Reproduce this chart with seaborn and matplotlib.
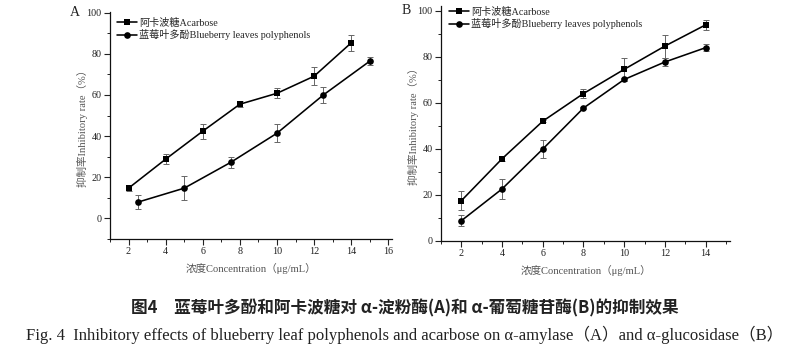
import matplotlib
matplotlib.use("Agg")
import matplotlib.pyplot as plt
import seaborn as sns
import pandas as pd
from matplotlib.ticker import MultipleLocator

sns.set_theme(style="ticks")
plt.rcParams['font.family'] = ['Liberation Serif', 'Noto Sans CJK SC']
plt.rcParams['axes.unicode_minus'] = False

# ---------------- data ----------------
series_names = ["阿卡波糖Acarbose", "蓝莓叶多酚Blueberry leaves polyphenols"]

# Panel A: alpha-amylase
a_acarbose_x = [2, 4, 6, 8, 10, 12, 14]
a_acarbose_y = [14.7, 28.8, 42.4, 55.5, 60.8, 69.1, 85.3]
a_acarbose_err = [1.5, 2.3, 3.7, 1.6, 2.4, 4.4, 3.8]
a_poly_x = [2.5, 5, 7.5, 10, 12.5, 15]
a_poly_y = [7.9, 14.7, 27.2, 41.4, 60.0, 76.4]
a_poly_err = [3.5, 5.9, 2.7, 4.4, 3.9, 2.0]

# Panel B: alpha-glucosidase
b_acarbose_x = [2, 4, 6, 8, 10, 12, 14]
b_acarbose_y = [17.5, 35.7, 52.0, 64.0, 74.5, 84.6, 93.8]
b_acarbose_err = [4.0, 1.0, 0.5, 2.0, 5.0, 5.0, 2.3]
b_poly_x = [2, 4, 6, 8, 10, 12, 14]
b_poly_y = [8.8, 22.6, 39.9, 57.7, 70.1, 77.7, 83.9]
b_poly_err = [2.3, 4.4, 3.9, 0.5, 0.5, 1.8, 1.5]

x_label = "浓度Concentration（μg/mL）"
y_label = "抑制率Inhibitory rate（%）"
caption_cn = "图4　蓝莓叶多酚和阿卡波糖对 α-淀粉酶(A)和 α-葡萄糖苷酶(B)的抑制效果"
caption_en = "Fig. 4  Inhibitory effects of blueberry leaf polyphenols and acarbose on α-amylase（A）and α-glucosidase（B）"

# ---------------- figure ----------------
W, H = 810, 352
fig = plt.figure(figsize=(W / 100, H / 100), dpi=100)
fig.patch.set_facecolor("white")


def px_axes(left, top, right, bottom):
    return fig.add_axes([left / W, 1 - bottom / H, (right - left) / W, (bottom - top) / H])


axA = px_axes(110, 12, 392, 239)
axB = px_axes(441, 6, 730, 241)

tick_fs = 7.3
label_fs = 7.6
label_color = "#555555"


def draw_panel(ax, ax_x, ax_y, ax_e, px_x, px_y, px_e, xlim, ylim, xmax_tick, legend_anchor):
    df = pd.concat([
        pd.DataFrame({"conc": ax_x, "rate": ax_y, "series": series_names[0]}),
        pd.DataFrame({"conc": px_x, "rate": px_y, "series": series_names[1]}),
    ], ignore_index=True)
    sns.lineplot(data=df, x="conc", y="rate", hue="series", style="series",
                 hue_order=series_names, style_order=series_names,
                 palette={series_names[0]: "black", series_names[1]: "black"},
                 markers={series_names[0]: "s", series_names[1]: "o"},
                 dashes=False, markersize=4.8, markeredgewidth=0,
                 linewidth=1.15, ax=ax, zorder=3)
    ax.errorbar(ax_x, ax_y, yerr=ax_e, fmt="none", ecolor="#666666",
                elinewidth=0.7, capsize=2.2, capthick=0.7, zorder=2)
    ax.errorbar(px_x, px_y, yerr=px_e, fmt="none", ecolor="#666666",
                elinewidth=0.7, capsize=2.2, capthick=0.7, zorder=2)
    ax.set_xlim(*xlim)
    ax.set_ylim(*ylim)
    ax.set_xticks(list(range(2, xmax_tick + 1, 2)))
    ax.set_yticks([0, 20, 40, 60, 80, 100])
    ax.xaxis.set_minor_locator(MultipleLocator(1))
    ax.yaxis.set_minor_locator(MultipleLocator(10))
    ax.tick_params(axis="both", which="major", direction="out", length=4,
                   width=0.8, labelsize=tick_fs, colors="#222222", pad=2)
    ax.tick_params(axis="both", which="minor", direction="out", length=2.2,
                   width=0.7, colors="#222222")
    for s in ["top", "right"]:
        ax.spines[s].set_visible(False)
    for s in ["left", "bottom"]:
        ax.spines[s].set_linewidth(0.9)
        ax.spines[s].set_color("#111111")
    ax.set_xlabel(x_label, fontsize=label_fs, color=label_color, labelpad=5)
    ax.set_ylabel(y_label, fontsize=label_fs, color=label_color, labelpad=-1)
    ax.set_facecolor("white")
    handles, labels = ax.get_legend_handles_labels()
    ax.legend(handles[-2:], labels[-2:], loc="upper left", bbox_to_anchor=legend_anchor,
              frameon=False, fontsize=7.3, handlelength=2.0, handletextpad=0.15,
              labelspacing=0.15, borderpad=0, borderaxespad=0)


draw_panel(axA, a_acarbose_x, a_acarbose_y, a_acarbose_err,
           a_poly_x, a_poly_y, a_poly_err,
           (1, 16.2), (-10, 100.3), 16, (0.025, 0.975))
draw_panel(axB, b_acarbose_x, b_acarbose_y, b_acarbose_err,
           b_poly_x, b_poly_y, b_poly_err,
           (1, 15.2), (0, 102), 14, (0.028, 0.998))

fig.text(75 / W, 1 - 12 / H, "A", fontsize=10, ha="center", va="center", color="#222222")
fig.text(406 / W, 1 - 11 / H, "B", fontsize=10, ha="center", va="center", color="#222222")

fig.text(0.5, 1 - 308 / H, caption_cn, fontsize=12, ha="center", va="center",
         family=["Noto Sans CJK SC"], weight="bold", color="#222222")
fig.text(0.5, 1 - 335 / H, caption_en, fontsize=12, ha="center", va="center",
         color="#222222")

fig.savefig("out.png", dpi=100, facecolor="white")
